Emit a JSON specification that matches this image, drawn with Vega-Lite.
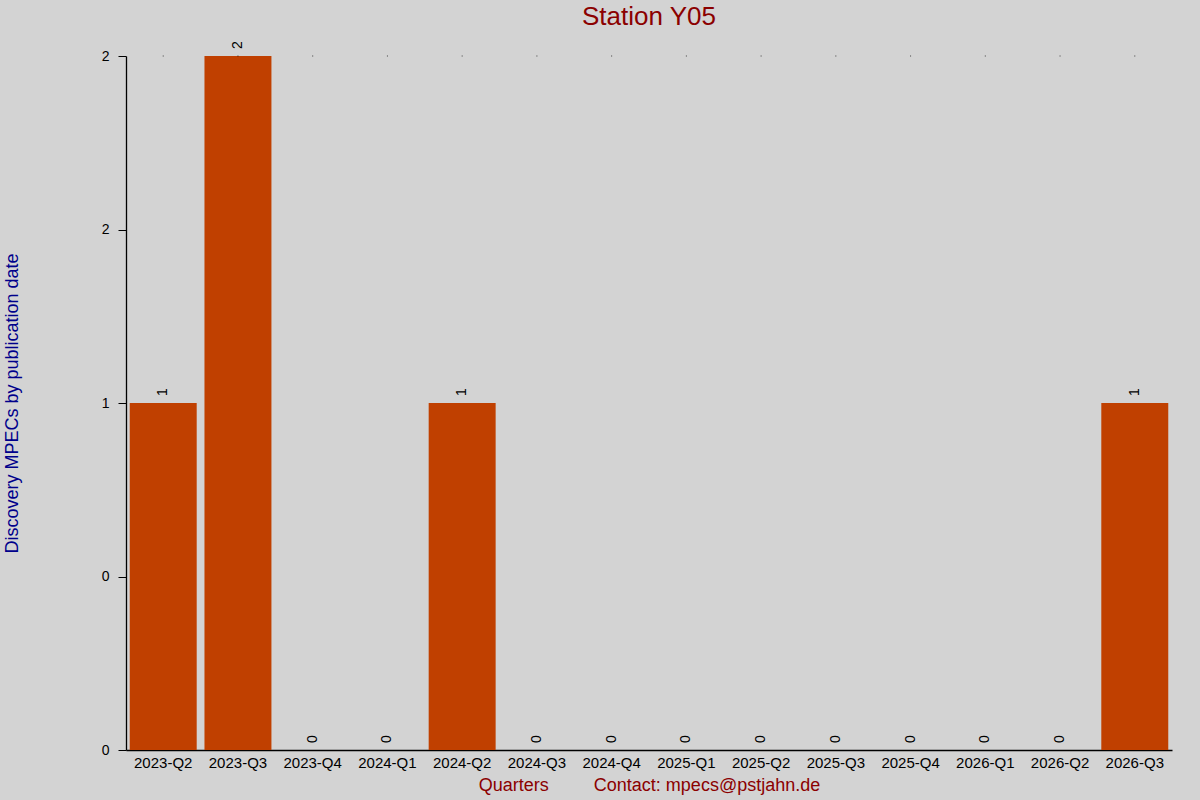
{
  "$schema": "https://vega.github.io/schema/vega-lite/v6.json",
  "width": 1046,
  "height": 694,
  "autosize": {"type": "none"},
  "padding": {"left": 126, "top": 56, "right": 28, "bottom": 50},
  "background": "#d3d3d3",
  "config": {
    "view": {"stroke": null},
    "font": "Liberation Sans",
    "axis": {"grid": false, "domainColor": "black", "tickColor": "black", "labelColor": "black"}
  },
  "title": {
    "text": "Station Y05",
    "color": "#8b0000",
    "fontSize": 26,
    "fontWeight": "normal",
    "anchor": "middle",
    "frame": "group",
    "baseline": "alphabetic",
    "offset": -10
  },
  "data": {
    "values": [
      {"quarter": "2023-Q2", "count": 1},
      {"quarter": "2023-Q3", "count": 2},
      {"quarter": "2023-Q4", "count": 0},
      {"quarter": "2024-Q1", "count": 0},
      {"quarter": "2024-Q2", "count": 1},
      {"quarter": "2024-Q3", "count": 0},
      {"quarter": "2024-Q4", "count": 0},
      {"quarter": "2025-Q1", "count": 0},
      {"quarter": "2025-Q2", "count": 0},
      {"quarter": "2025-Q3", "count": 0},
      {"quarter": "2025-Q4", "count": 0},
      {"quarter": "2026-Q1", "count": 0},
      {"quarter": "2026-Q2", "count": 0},
      {"quarter": "2026-Q3", "count": 1}
    ]
  },
  "encoding": {
    "x": {
      "field": "quarter",
      "type": "ordinal",
      "sort": null,
      "scale": {"paddingInner": 0.104, "paddingOuter": 0.05},
      "axis": {
        "title": "Quarters\u00a0\u00a0\u00a0\u00a0\u00a0\u00a0\u00a0\u00a0\u00a0Contact: mpecs@pstjahn.de",
        "titleColor": "#8b0000",
        "titleFontSize": 18,
        "titleFontWeight": "normal",
        "titlePadding": 6,
        "labelAngle": 0,
        "labelFontSize": 15,
        "labelPadding": 5,
        "ticks": false,
        "domainWidth": 1.3
      }
    }
  },
  "layer": [
    {
      "mark": {"type": "bar", "color": "#c04000"},
      "encoding": {
        "y": {
          "field": "count",
          "type": "quantitative",
          "scale": {"domain": [0, 2], "nice": false},
          "axis": {
            "title": "Discovery MPECs by publication date",
            "titleColor": "#00008b",
            "titleFontSize": 18,
            "titleFontWeight": "normal",
            "titleX": -114,
            "titleY": 347,
            "titleAngle": -90,
            "titleAlign": "center",
            "titleBaseline": "middle",
            "values": [0, 0.5, 1, 1.5, 2],
            "labelExpr": "datum.value == 1 ? '1' : datum.value > 1 ? '2' : '0'",
            "labelFontSize": 14,
            "labelPadding": 9,
            "tickSize": 8,
            "domainWidth": 1.3
          }
        }
      }
    },
    {
      "mark": {"type": "point", "shape": "square", "size": 1, "filled": true, "color": "black"},
      "encoding": {"y": {"datum": 2}}
    },
    {
      "mark": {"type": "text", "angle": 270, "align": "left", "baseline": "middle", "dx": 7, "fontSize": 14, "color": "black"},
      "encoding": {
        "y": {"field": "count", "type": "quantitative"},
        "text": {"field": "count", "type": "quantitative"}
      }
    }
  ]
}
